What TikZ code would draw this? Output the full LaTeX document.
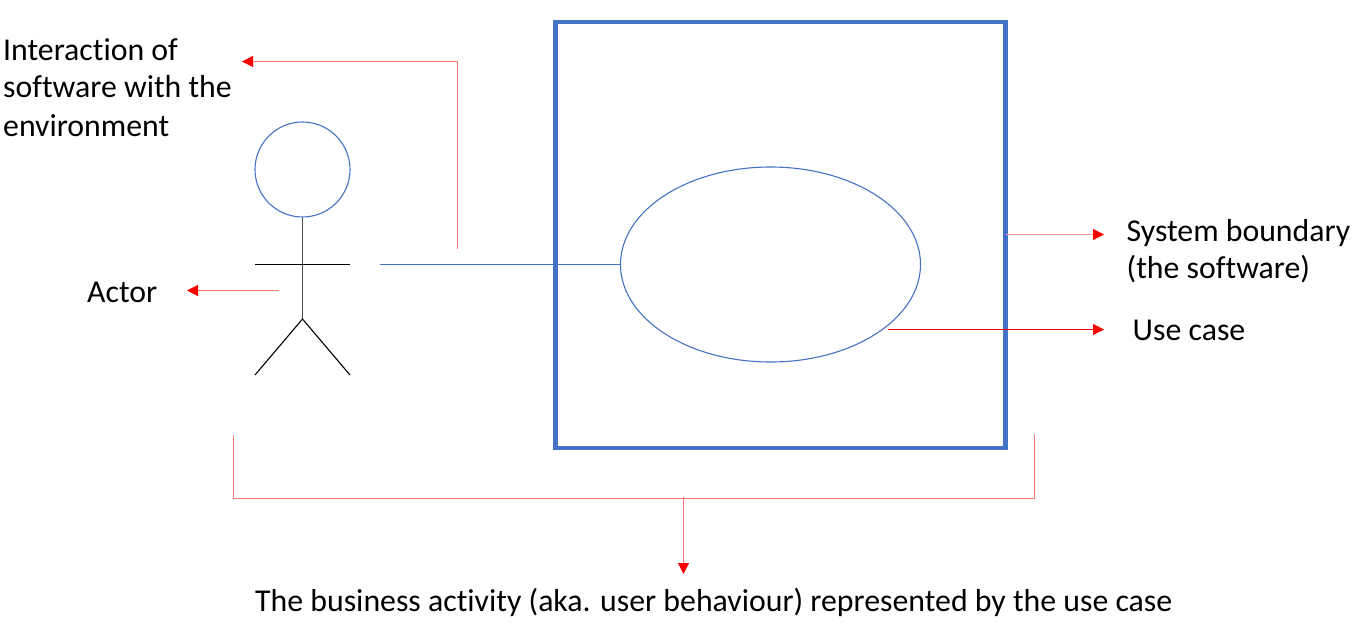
\documentclass[tikz,border=0pt]{standalone}
\usepackage{fontspec}
\setmainfont[Ligatures={NoCommon}]{Carlito}
\usetikzlibrary{arrows.meta,shapes.geometric}
\definecolor{bluel}{RGB}{68,114,196}
\definecolor{redsoft}{RGB}{255,120,120}
\tikzset{
  x=1pt,y=-1pt,
  label text/.style={inner sep=0pt,anchor=base west,font=\fontsize{31.8}{38}\selectfont,text=black},
  boundary/.style={draw=bluel,line width=4.7pt,minimum width=450pt,minimum height=426pt,inner sep=0pt},
  bluethin/.style={draw=bluel,line width=1.1pt},
  stick/.style={draw=black,line width=1.1pt},
  pointer/.style={draw=redsoft,line width=1.1pt},
  pointed/.style={pointer,-{Triangle[length=11pt,width=11pt,fill=red,color=red]}},
}
\begin{document}
\begin{tikzpicture}
\useasboundingbox (0,0) rectangle (1353,626);
% shapes
\node[boundary] (sys) at (780.5,235) {};
\node[ellipse,bluethin,minimum width=300pt,minimum height=195pt,inner sep=0pt] (uc) at (770.5,264.5) {};
\node[circle,bluethin,minimum size=95pt,inner sep=0pt] (head) at (302.5,169.5) {};
% labels
\node[label text] (interaction1) at (3,60.5) {Interaction of};
\node[label text] (interaction2) at (3,97.5) {software with the};
\node[label text] (interaction3) at (3,136) {environment};
\node[label text] (actor) at (87,302) {Actor};
\node[label text] (system1) at (1126.5,241.5) {System boundary};
\node[label text] (system2) at (1126.5,278) {(the software)};
\node[label text] (usecase) at (1132.5,340) {Use case};
\node[label text] (business) at (255,611.5) {The business activity (aka. user behaviour) represented by the use case};
% stick figure
\coordinate (hip) at (302.5,319);
\coordinate (armL) at (255,264.5);
\coordinate (armR) at (350,264.5);
\coordinate (legL) at (255,375);
\coordinate (legR) at (350,375);
\draw[stick,draw=black!70] (head.south) -- (hip);
\draw[stick] (armL) -- (armR);
\draw[stick] (legL) -- (hip) -- (legR);
% association
\coordinate (assocStart) at (380,264.5);
\draw[bluethin] (assocStart) -- (uc.west);
% pointers
\coordinate (p1a) at (457.5,249);
\coordinate (p1b) at (457.5,61.5);
\coordinate (p1c) at (242,61.5);
\draw[pointed] (p1a) -- (p1b) -- (p1c);
\coordinate (p2a) at (279,290.5);
\coordinate (p2b) at (187,290.5);
\draw[pointed] (p2a) -- (p2b);
\coordinate (p3a) at (1006,234.5);
\coordinate (p3b) at (1104,234.5);
\draw[pointed,draw=red!40] (p3a) -- (p3b);
\coordinate (p4a) at (888,329.5);
\coordinate (p4b) at (1104,329.5);
\draw[draw=red,line width=1pt,-{Triangle[length=11pt,width=11pt,fill=red,color=red]}] (p4a) -- (p4b);
\coordinate (b1) at (233.5,435);
\coordinate (b2) at (233.5,498.5);
\coordinate (b3) at (1034.5,498.5);
\coordinate (b4) at (1034.5,434);
\draw[pointer] (b1) -- (b2) -- (b3) -- (b4);
\coordinate (b5) at (683.5,497);
\coordinate (b6) at (683.5,574);
\draw[pointed] (b5) -- (b6);
\end{tikzpicture}
\end{document}
